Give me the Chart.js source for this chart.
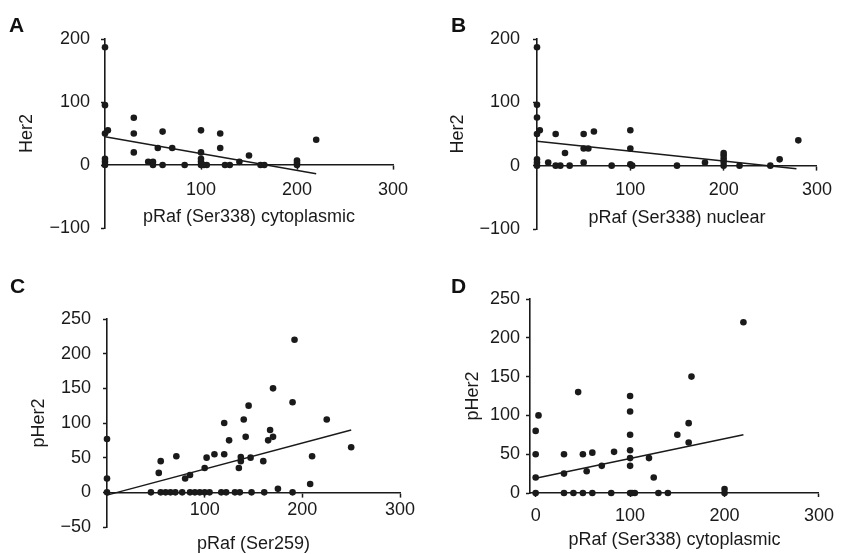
<!DOCTYPE html>
<html>
<head>
<meta charset="utf-8">
<script src="https://cdn.jsdelivr.net/npm/chart.js@4.4.1/dist/chart.umd.min.js"></script>
<style>
  body { margin: 0; background: #fff; width: 842px; height: 554px; overflow: hidden; position: relative;
         font-family: "Liberation Sans", Arial, sans-serif; }
  .panel { position: absolute; width: 421px; height: 277px; }
  .letter { position: absolute; font-weight: bold; font-size: 21px; color: #111; line-height: 1; }
</style>
</head>
<body>
<div class="panel" style="left:0;top:0"><canvas id="chartA" width="421" height="277"></canvas></div>
<div class="panel" style="left:421px;top:0"><canvas id="chartB" width="421" height="277"></canvas></div>
<div class="panel" style="left:0;top:277px"><canvas id="chartC" width="421" height="277"></canvas></div>
<div class="panel" style="left:421px;top:277px"><canvas id="chartD" width="421" height="277"></canvas></div>
<div class="letter" style="left:9px;top:14px">A</div>
<div class="letter" style="left:451px;top:14px">B</div>
<div class="letter" style="left:10px;top:275px">C</div>
<div class="letter" style="left:451px;top:275px">D</div>

<script>
// A: Her2 vs pRaf (Ser338) cytoplasmic
const aX = [0, 0, 0, 0, 0, 0, 3, 30, 30, 30, 45, 50, 50, 55, 60, 60, 70, 83,
            100, 100, 100, 100, 100, 103, 106, 120, 120, 125, 130, 140, 150, 162, 166, 200, 200, 200, 220];
const aY = [187, 95, 50, 10, 5, 0, 55, 75, 50, 20, 5, 5, 0, 27, 53, 0, 27, 0,
            55, 20, 10, 5, 0, 0, 0, 50, 27, 0, 0, 5, 15, 0, 0, 7, 3, 0, 40];
const aFitX = [0, 220];
const aFitY = [45, -14];

// B: Her2 vs pRaf (Ser338) nuclear
const bX = [0, 0, 0, 0, 0, 0, 0, 3, 12, 20, 20, 25, 30, 35, 50, 50, 50, 55, 61, 80,
            100, 100, 100, 102, 150, 180, 200, 200, 200, 200, 200, 217, 250, 260, 280];
const bY = [187, 96, 76, 50, 10, 5, 0, 56, 5, 50, 0, 0, 20, 0, 50, 27, 5, 27, 54, 0,
            56, 27, 2, 0, 0, 5, 20, 16, 11, 6, 0, 0, 0, 10, 40];
const bFitX = [0, 278];
const bFitY = [38.5, -5];

// C: pHer2 vs pRaf (Ser259)
const cX = [0, 0, 0, 53, 55, 71, 80, 85, 100, 102, 110, 120, 120, 125, 135, 137, 137, 140, 142, 145,
            147, 160, 165, 167, 170, 170, 175, 190, 192, 208, 210, 225, 250,
            45, 55, 60, 65, 70, 77, 85, 90, 95, 100, 105, 117, 122, 131, 136, 148, 161, 190];
const cY = [77, 20, 0, 28, 45, 52, 20, 25, 35, 50, 55, 55, 100, 75, 35, 45, 51, 105, 80, 125,
            50, 45, 75, 90, 150, 80, 5, 130, 220, 12, 52, 105, 65,
            0, 0, 0, 0, 0, 0, 0, 0, 0, 0, 0, 0, 0, 0, 0, 0, 0, 0];
const cFitX = [0, 250];
const cFitY = [-4, 90];

// D: pHer2 vs pRaf (Ser338) cytoplasmic
const dX = [0, 0, 0, 0, 3, 30, 30, 30, 40, 45, 50, 50, 54, 60, 60, 70, 80, 83,
            100, 100, 100, 100, 100, 100, 100, 102, 105, 120, 125, 130, 140,
            150, 162, 162, 165, 200, 200, 220];
const dY = [80, 50, 20, 0, 100, 50, 25, 0, 0, 130, 50, 0, 28, 52, 0, 35, 0, 53,
            125, 105, 75, 55, 45, 35, 0, 0, 0, 45, 20, 0, 0,
            75, 90, 65, 150, 5, 0, 220];
const dFitX = [0, 220];
const dFitY = [19, 75];

const xTicksABC = [100, 200, 300];
const xTicksD = [0, 100, 200, 300];
const yTicksAB = [-100, 0, 100, 200];
const yTicksC = [-50, 0, 50, 100, 150, 200, 250];
const yTicksD = [0, 50, 100, 150, 200, 250];

Chart.defaults.font.family = '"Liberation Sans", Arial, sans-serif';
Chart.defaults.font.size = 18;
Chart.defaults.color = '#222';

const ink = '#1a1a1a';

function toPoints(xs, ys) {
  return xs.map((x, i) => ({ x: x, y: ys[i] }));
}

// typographic minus for negative ticks
function fmt(v) {
  return v < 0 ? '\u2212' + Math.abs(v) : String(v);
}

function makePanel(id, o) {
  const xScale = {
    type: 'linear',
    min: o.xMin,
    max: 300,
    position: o.xPos,
    afterBuildTicks: s => { s.ticks = o.xTicks.map(v => ({ value: v })); },
    grid: { drawOnChartArea: false, tickLength: 4, tickWidth: 1.5, tickColor: ink },
    border: { color: ink, width: 1.6 },
    ticks: { padding: o.xPad, color: ink, callback: fmt },
    title: { display: true, text: o.xTitle, color: ink, padding: o.xTitlePad }
  };
  if (o.xHeight) xScale.afterFit = s => { s.height = o.xHeight; };

  return new Chart(document.getElementById(id), {
    type: 'scatter',
    data: {
      datasets: [
        {
          data: toPoints(o.xs, o.ys),
          pointRadius: 3.3,
          pointBackgroundColor: ink,
          pointBorderWidth: 0,
          clip: false
        },
        {
          type: 'line',
          data: toPoints(o.fitX, o.fitY),
          borderColor: ink,
          borderWidth: 1.5,
          pointRadius: 0,
          fill: false,
          clip: false
        }
      ]
    },
    options: {
      responsive: false,
      animation: false,
      layout: { padding: o.pad },
      plugins: { legend: { display: false }, tooltip: { enabled: false } },
      scales: {
        x: xScale,
        y: {
          type: 'linear',
          min: o.yMin,
          max: o.yMax,
          position: 'left',
          afterBuildTicks: s => { s.ticks = o.yTicks.map(v => ({ value: v })); },
          afterFit: s => { s.width = o.yWidth; },
          grid: { drawOnChartArea: false, tickLength: 4, tickWidth: 1.5, tickColor: ink },
          border: { color: ink, width: 1.6 },
          ticks: { padding: o.yPad, color: ink, callback: fmt },
          title: { display: true, text: o.yTitle, color: ink, padding: 0 }
        }
      }
    }
  });
}

makePanel('chartA', {
  xs: aX, ys: aY, fitX: aFitX, fitY: aFitY,
  xMin: 0, xTicks: xTicksABC, xPos: { y: 0 }, xPad: 10, xTitlePad: { top: -4, bottom: 0 },
  xTitle: 'pRaf (Ser338) cytoplasmic',
  yMin: -100, yMax: 200, yTicks: yTicksAB, yWidth: 89, yPad: 11, yTitle: 'Her2',
  pad: { left: 16, top: 39, right: 28, bottom: 49 }
});

makePanel('chartB', {
  xs: bX, ys: bY, fitX: bFitX, fitY: bFitY,
  xMin: 0, xTicks: xTicksABC, xPos: { y: 0 }, xPad: 10, xTitlePad: { top: -4, bottom: 0 },
  xTitle: 'pRaf (Ser338) nuclear',
  yMin: -100, yMax: 200, yTicks: yTicksAB, yWidth: 90, yPad: 13, yTitle: 'Her2',
  pad: { left: 26, top: 39, right: 17, bottom: 48 }
});

makePanel('chartC', {
  xs: cX, ys: cY, fitX: cFitX, fitY: cFitY,
  xMin: 0, xTicks: xTicksABC, xPos: { y: 0 }, xPad: 3, xTitlePad: { top: 9, bottom: 0 },
  xTitle: 'pRaf (Ser259)',
  yMin: -50, yMax: 250, yTicks: yTicksC, yWidth: 79, yPad: 12, yTitle: 'pHer2',
  pad: { left: 28, top: 42, right: 21, bottom: 27 }
});

makePanel('chartD', {
  xs: dX, ys: dY, fitX: dFitX, fitY: dFitY,
  xMin: -6, xTicks: xTicksD, xPos: 'bottom', xPad: 8, xTitlePad: { top: 0, bottom: 3 }, xHeight: 61,
  xTitle: 'pRaf (Ser338) cytoplasmic',
  yMin: 0, yMax: 250, yTicks: yTicksD, yWidth: 68, yPad: 6, yTitle: 'pHer2',
  pad: { left: 41, top: 22, right: 16, bottom: 0 }
});
</script>
</body>
</html>
